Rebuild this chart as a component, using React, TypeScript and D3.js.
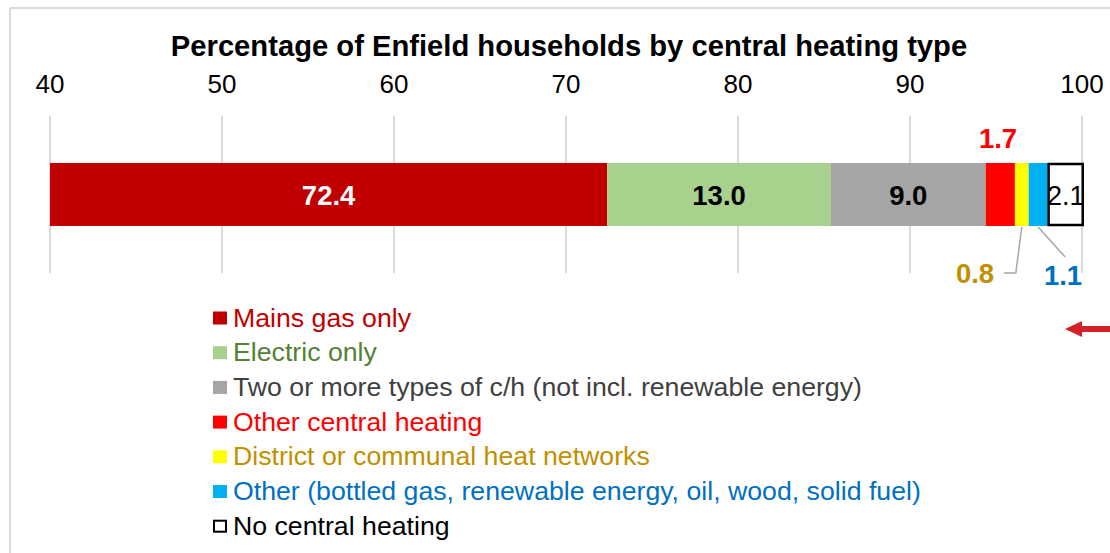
import React from "react";
import * as d3 from "d3";

const categories = [
  "Mains gas only",
  "Electric only",
  "Two or more types of c/h (not incl. renewable energy)",
  "Other central heating",
  "District or communal heat networks",
  "Other (bottled gas, renewable energy, oil, wood, solid fuel)",
  "No central heating",
];
const values = [72.4, 13.0, 9.0, 1.7, 0.8, 1.1, 2.1];
const barColors = ["#C00000", "#A9D18E", "#A5A5A5", "#FF0000", "#FFFF00", "#00B0F0", "#FFFFFF"];
const legendTextColors = ["#C00000", "#548235", "#404040", "#FF0000", "#BF9000", "#0070C0", "#000000"];
const tickValues = [40, 50, 60, 70, 80, 90, 100];
const title = "Percentage of Enfield households by central heating type";

const W = 1110;
const H = 553;
const FONT = "'Liberation Sans', Arial, sans-serif";

export default function App() {
  const x = d3.scaleLinear().domain([40, 100]).range([50, 1082]);
  const barTop = 163;
  const barH = 63;
  const labelBase = barTop + barH / 2 + 10;

  const segs: { x0: number; x1: number; v: number; i: number }[] = [];
  let cum = 0;
  values.forEach((v, i) => {
    const s = cum;
    cum += v;
    segs.push({ x0: i === 0 ? 40 : s, x1: cum, v, i });
  });

  const mid = (s: { x0: number; x1: number }) => (x(s.x0) + x(s.x1)) / 2;

  const legendY0 = 326.5;
  const legendStep = 34.7;
  const LBL = 27.5;

  return (
    <svg
      width={W}
      height={H}
      style={{ position: "absolute", left: 0, top: 0, background: "#fff" }}
      fontFamily={FONT}
    >
      {/* frame */}
      <line x1={10} y1={8} x2={W} y2={8} stroke="#D9D9D9" strokeWidth={2} />
      <line x1={10} y1={8} x2={10} y2={H} stroke="#D9D9D9" strokeWidth={2} />

      {/* title */}
      <text x={569} y={56} textAnchor="middle" fontSize={29.2} fontWeight="bold" fill="#000">
        {title}
      </text>

      {/* ticks */}
      {tickValues.map((t) => (
        <g key={t}>
          <text x={x(t)} y={93} textAnchor="middle" fontSize={26} fill="#000">
            {t}
          </text>
          <line x1={x(t)} x2={x(t)} y1={116} y2={273} stroke="#D9D9D9" strokeWidth={2} />
        </g>
      ))}

      {/* bars */}
      {segs.map((s) => {
        const last = s.i === values.length - 1;
        return (
          <rect
            key={s.i}
            x={x(s.x0) + (last ? 1 : 0)}
            y={barTop + (last ? 1 : 0)}
            width={x(s.x1) - x(s.x0) - (last ? 2 : 0)}
            height={barH - (last ? 2 : 0)}
            fill={barColors[s.i]}
            stroke={last ? "#000" : "none"}
            strokeWidth={last ? 2.5 : 0}
          />
        );
      })}

      {/* inside labels */}
      <text x={mid(segs[0])} y={labelBase} textAnchor="middle" fontSize={LBL} fontWeight="bold" fill="#fff">
        {values[0].toFixed(1)}
      </text>
      <text x={mid(segs[1])} y={labelBase} textAnchor="middle" fontSize={LBL} fontWeight="bold" fill="#000">
        {values[1].toFixed(1)}
      </text>
      <text x={mid(segs[2])} y={labelBase} textAnchor="middle" fontSize={LBL} fontWeight="bold" fill="#000">
        {values[2].toFixed(1)}
      </text>
      <text x={mid(segs[6])} y={labelBase} textAnchor="middle" fontSize={27} fill="#000">
        {values[6].toFixed(1)}
      </text>

      {/* outside labels */}
      <text x={998} y={148} textAnchor="middle" fontSize={LBL} fontWeight="bold" fill="#FF0000">
        {values[3].toFixed(1)}
      </text>
      <polyline
        points={`${mid(segs[4])},${barTop + barH + 1} ${mid(segs[4]) - 6},273 ${mid(segs[4]) - 18},273`}
        fill="none"
        stroke="#A6A6A6"
        strokeWidth={1.5}
      />
      <text x={975} y={283} textAnchor="middle" fontSize={LBL} fontWeight="bold" fill="#BF9000">
        {values[4].toFixed(1)}
      </text>
      <line
        x1={mid(segs[5])}
        y1={barTop + barH + 1}
        x2={mid(segs[5]) + 27}
        y2={257}
        stroke="#A6A6A6"
        strokeWidth={1.5}
      />
      <text x={1063} y={285} textAnchor="middle" fontSize={LBL} fontWeight="bold" fill="#0070C0">
        {values[5].toFixed(1)}
      </text>

      {/* legend */}
      {categories.map((c, i) => {
        const y = legendY0 + i * legendStep;
        const last = i === categories.length - 1;
        return (
          <g key={c}>
            <rect
              x={213 + (last ? 1 : 0)}
              y={y - 15 + (last ? 1 : 0)}
              width={last ? 12 : 14}
              height={last ? 11 : 13}
              fill={barColors[i]}
              stroke={last ? "#000" : "none"}
              strokeWidth={last ? 2 : 0}
            />
            <text x={233} y={y} fontSize={26.7} fill={legendTextColors[i]}>
              {c}
            </text>
          </g>
        );
      })}

      {/* red arrow */}
      <polygon points="1065,329 1082,321 1082,326 1110,326 1110,332 1082,332 1082,337" fill="#D42027" />
    </svg>
  );
}
